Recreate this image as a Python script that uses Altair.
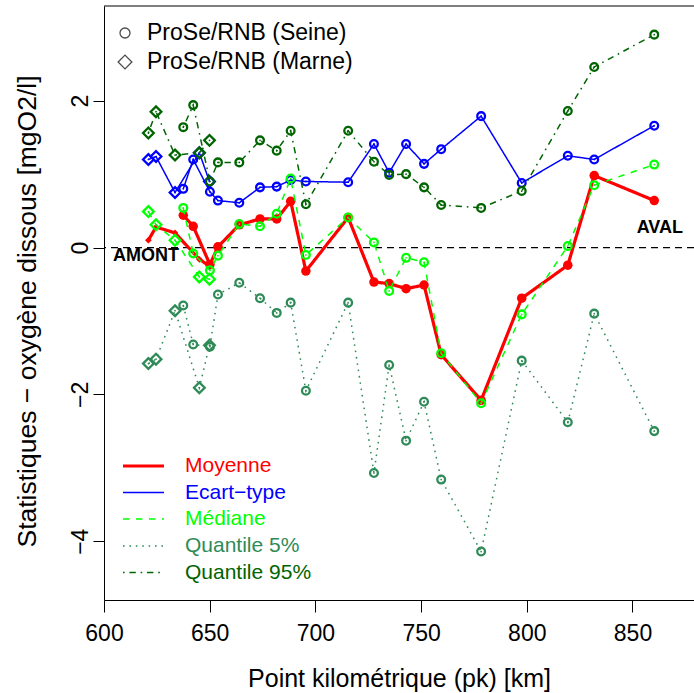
import altair as alt
import pandas as pd

# ---------------- data ----------------
pk_seine = [637.5, 642.2, 650.1, 653.9, 664.0, 673.8, 681.7, 688.3, 695.5, 715.5,
            727.7, 734.9, 742.9, 751.4, 759.5, 778.4, 797.6, 819.4, 831.9, 860.3]
pk_marne = [621.0, 624.6, 633.6, 645.1, 649.9]

moyenne_seine = [0.44, 0.29, -0.23, 0.01, 0.31, 0.39, 0.39, 0.63, -0.32, 0.41,
                 -0.47, -0.49, -0.56, -0.51, -1.46, -2.08, -0.69, -0.24, 0.98, 0.64]
ecart_seine = [0.80, 1.20, 0.76, 0.64, 0.61, 0.82, 0.83, 0.92, 0.90, 0.89,
               1.41, 1.02, 1.41, 1.14, 1.34, 1.79, 0.88, 1.25, 1.20, 1.66]
mediane_seine = [0.54, -0.08, -0.31, -0.11, 0.32, 0.29, 0.46, 0.94, -0.10, 0.41,
                 0.07, -0.59, -0.14, -0.20, -1.44, -2.12, -0.91, 0.02, 0.85, 1.13]
q5_seine = [-0.79, -1.32, -1.35, -0.64, -0.48, -0.69, -0.89, -0.75, -1.95, -0.75,
            -3.07, -1.60, -2.63, -2.10, -3.16, -4.14, -1.54, -2.38, -0.90, -2.50]
q95_seine = [1.64, 1.94, 0.90, 1.16, 1.16, 1.46, 1.32, 1.59, 0.59, 1.59,
             1.17, 0.99, 1.00, 0.82, 0.58, 0.54, 0.77, 1.86, 2.46, 2.90]

moyenne_marne = [0.10, 0.28, 0.20, -0.16, -0.25]
ecart_marne = [1.20, 1.24, 0.75, 1.29, 0.90]
mediane_marne = [0.49, 0.31, 0.10, -0.40, -0.43]
q5_marne = [-1.58, -1.52, -0.86, -1.91, -1.33]
q95_marne = [1.56, 1.85, 1.26, 1.29, 1.46]

stats = ["Moyenne", "Ecart-type", "Médiane", "Quantile 5%", "Quantile 95%"]
legend_labels = ["Moyenne", "Ecart\u2212type", "Médiane", "Quantile 5%", "Quantile 95%"]
colors = ["#FF0000", "#0000FF", "#00FF00", "#2E8B57", "#006400"]
dashes = [[1, 0], [1, 0], [6.5, 6.5], [1.6, 4.8], [1.6, 4.8, 6.4, 4.8]]
widths = [3.2, 1.5, 1.5, 1.5, 1.5]

seine_series = [moyenne_seine, ecart_seine, mediane_seine, q5_seine, q95_seine]
marne_series = [moyenne_marne, ecart_marne, mediane_marne, q5_marne, q95_marne]

rows = []
for river, pks, series in [("Seine", pk_seine, seine_series), ("Marne", pk_marne, marne_series)]:
    for stat, vals in zip(stats, series):
        for p, v in zip(pks, vals):
            rows.append({"pk": p, "val": v, "stat": stat, "river": river})
df = pd.DataFrame(rows)

FONT = "Liberation Sans"
W, H = 590, 594

X = alt.X("pk:Q", scale=alt.Scale(domain=[600, 879.1], nice=False, zero=False),
          axis=alt.Axis(values=[600, 650, 700, 750, 800, 850], grid=False,
                        title="Point kilométrique (pk) [km]",
                        labelFontSize=23, labelFont=FONT, labelColor="black",
                        labelBaseline="middle", labelPadding=21, tickSize=12,
                        tickColor="black", domainColor="black", labelFlush=False,
                        titleFontSize=25, titleFont=FONT, titleFontWeight="normal",
                        titleColor="black", titleBaseline="middle",
                        titleX=W / 2, titleY=78))
Y = alt.Y("val:Q", scale=alt.Scale(domain=[-4.8, 3.29], nice=False, zero=False),
          axis=alt.Axis(values=[-4, -2, 0, 2], grid=False,
                        title="Statistiques \u2212 oxygène dissous [mgO2/l]",
                        labelFontSize=23, labelFont=FONT, labelColor="black",
                        labelAngle=270, labelAlign="center", labelBaseline="middle",
                        labelPadding=13, tickSize=11, tickColor="black",
                        domainColor="black", labelFlush=False,
                        titleFontSize=26.5, titleFont=FONT, titleFontWeight="normal",
                        titleColor="black", titleBaseline="middle",
                        titleX=-77, titleY=H / 2 + 8))

layers = []

# zero dashed line
layers.append(alt.Chart(pd.DataFrame({"val": [0.0]})).mark_rule(
    color="black", strokeDash=[7, 5], strokeWidth=1.2).encode(y=Y))

for i, stat in enumerate(stats):
    d = df[df.stat == stat]
    c = colors[i]
    layers.append(alt.Chart(d).mark_line(color=c, strokeWidth=widths[i],
                                         strokeDash=dashes[i]).encode(
        x=X, y=Y, detail="river:N"))
    ds = d[d.river == "Seine"]
    dm = d[d.river == "Marne"]
    if stat == "Moyenne":
        layers.append(alt.Chart(ds).mark_circle(color=c, size=90, opacity=1).encode(x=X, y=Y))
        layers.append(alt.Chart(dm).mark_point(shape="diamond", filled=True, color=c,
                                               size=45, opacity=1).encode(x=X, y=Y))
    else:
        layers.append(alt.Chart(ds).mark_point(shape="circle", filled=False, color=c,
                                               size=60, strokeWidth=2.3, opacity=1).encode(x=X, y=Y))
        layers.append(alt.Chart(dm).mark_point(shape="diamond", filled=False, color=c,
                                               size=115, strokeWidth=2.3, opacity=1).encode(x=X, y=Y))
    layers.append(alt.Chart(d).mark_circle(color=c, size=3, opacity=1).encode(x=X, y=Y))

# AMONT / AVAL annotations
layers.append(alt.Chart(pd.DataFrame({"pk": [604.3], "val": [-0.12], "t": ["AMONT"]})).mark_text(
    align="left", baseline="middle", fontSize=18, fontWeight="bold", font=FONT,
    color="black").encode(x=X, y=Y, text="t:N"))
layers.append(alt.Chart(pd.DataFrame({"pk": [873.9], "val": [0.27], "t": ["AVAL"]})).mark_text(
    align="right", baseline="middle", fontSize=18, fontWeight="bold", font=FONT,
    color="black").encode(x=X, y=Y, text="t:N"))

one = pd.DataFrame({"a": [0]})

# top border of the box
layers.append(alt.Chart(one).mark_rule(color="black", strokeWidth=1).encode(
    x=alt.value(0), x2=alt.value(W), y=alt.value(0)))

# top legend (stations)
layers.append(alt.Chart(one).mark_point(shape="circle", filled=False, color="black",
                                        size=100, strokeWidth=1.3).encode(
    x=alt.value(21), y=alt.value(27)))
layers.append(alt.Chart(one).mark_point(shape="diamond", filled=False, color="black",
                                        size=190, strokeWidth=1.3).encode(
    x=alt.value(21), y=alt.value(56)))
for yy, txt in [(27, "ProSe/RNB (Seine)"), (56, "ProSe/RNB (Marne)")]:
    layers.append(alt.Chart(one).mark_text(align="left", baseline="middle", fontSize=23,
                                           font=FONT, color="black").encode(
        x=alt.value(43), y=alt.value(yy), text=alt.value(txt)))

# bottom legend (statistics)
leg_y = [460, 486.5, 513, 540, 566.5]
for i, lab in enumerate(legend_labels):
    layers.append(alt.Chart(one).mark_rule(color=colors[i], strokeWidth=widths[i] if i == 0 else 1.5,
                                           strokeDash=dashes[i]).encode(
        x=alt.value(19), x2=alt.value(60), y=alt.value(leg_y[i])))
    layers.append(alt.Chart(one).mark_text(align="left", baseline="middle", fontSize=21,
                                           font=FONT, color=colors[i]).encode(
        x=alt.value(81), y=alt.value(leg_y[i]), text=alt.value(lab)))

chart = alt.layer(*layers).properties(
    width=W, height=H, autosize="none",
    padding={"left": 104, "top": 6, "right": 0, "bottom": 93},
    background="white",
).configure_view(stroke=None).configure_axis(domainWidth=1, tickWidth=1)

chart.save("out.html", embed_options={"renderer": "svg", "actions": False})
